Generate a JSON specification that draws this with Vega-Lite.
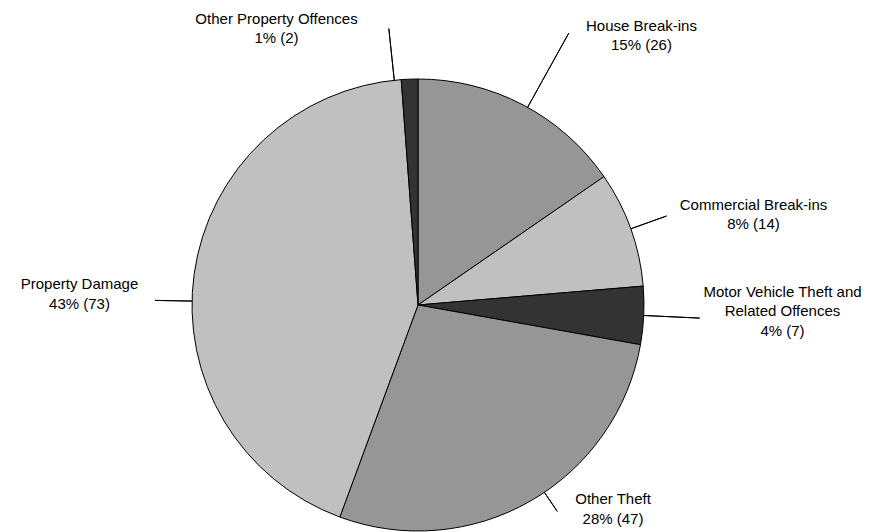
{
  "$schema": "https://vega.github.io/schema/vega-lite/v6.json",
  "width": 836,
  "height": 454,
  "autosize": {"type": "none"},
  "padding": {"left": 0, "top": 78, "right": 44, "bottom": 0},
  "background": "#ffffff",
  "config": {"view": {"stroke": null}, "text": {"font": "Liberation Sans"}},
  "data": {
    "values": [
      {"category": "House Break-ins", "value": 26, "label": "House Break-ins\n15% (26)", "order": 1},
      {"category": "Commercial Break-ins", "value": 14, "label": "Commercial Break-ins\n8% (14)", "order": 2},
      {"category": "Motor Vehicle Theft and Related Offences", "value": 7, "label": "Motor Vehicle Theft and\nRelated Offences\n4% (7)", "order": 3},
      {"category": "Other Theft", "value": 47, "label": "Other Theft\n28% (47)", "order": 4},
      {"category": "Property Damage", "value": 73, "label": "Property Damage\n43% (73)", "order": 5},
      {"category": "Other Property Offences", "value": 2, "label": "Other Property Offences\n1% (2)", "order": 6}
    ]
  },
  "encoding": {
    "theta": {"field": "value", "type": "quantitative", "stack": true},
    "order": {"field": "order", "type": "quantitative"}
  },
  "layer": [
    {
      "mark": {"type": "arc", "radius": 226, "stroke": "#000000", "strokeWidth": 1},
      "encoding": {
        "color": {
          "field": "category",
          "type": "nominal",
          "scale": {
            "domain": ["House Break-ins", "Commercial Break-ins", "Motor Vehicle Theft and Related Offences", "Other Theft", "Property Damage", "Other Property Offences"],
            "range": ["#969696", "#c0c0c0", "#333333", "#969696", "#c0c0c0", "#333333"]
          },
          "legend": null
        }
      }
    },
    {
      "mark": {
        "type": "arc",
        "radius": {"expr": "[311, 264, 282, 249, 263, 278][datum.order - 1]"},
        "radius2": 226,
        "padAngle": 3.1416,
        "thetaOffset": {"expr": "[0.023, 0, 0, -0.073, -0.122, -0.068][datum.order - 1]"},
        "theta2Offset": {"expr": "[0.023, 0, 0, -0.073, -0.122, -0.068][datum.order - 1]"},
        "fill": "#ffffff",
        "fillOpacity": 0,
        "stroke": "#000000",
        "strokeWidth": 1
      }
    },
    {
      "mark": {
        "type": "text",
        "radius": 290,
        "align": "center",
        "baseline": "middle",
        "fontSize": 15,
        "lineHeight": 19.5,
        "lineBreak": "\n",
        "color": "#000000",
        "dx": {"expr": "[88.7, 62.5, 74.8, 50.8, -51.3, -130.7][datum.order - 1]"},
        "dy": {"expr": "[-22.7, -2.7, -26.5, -57.1, 19.8, 3.3][datum.order - 1]"}
      },
      "encoding": {"text": {"field": "label", "type": "nominal"}}
    }
  ]
}
